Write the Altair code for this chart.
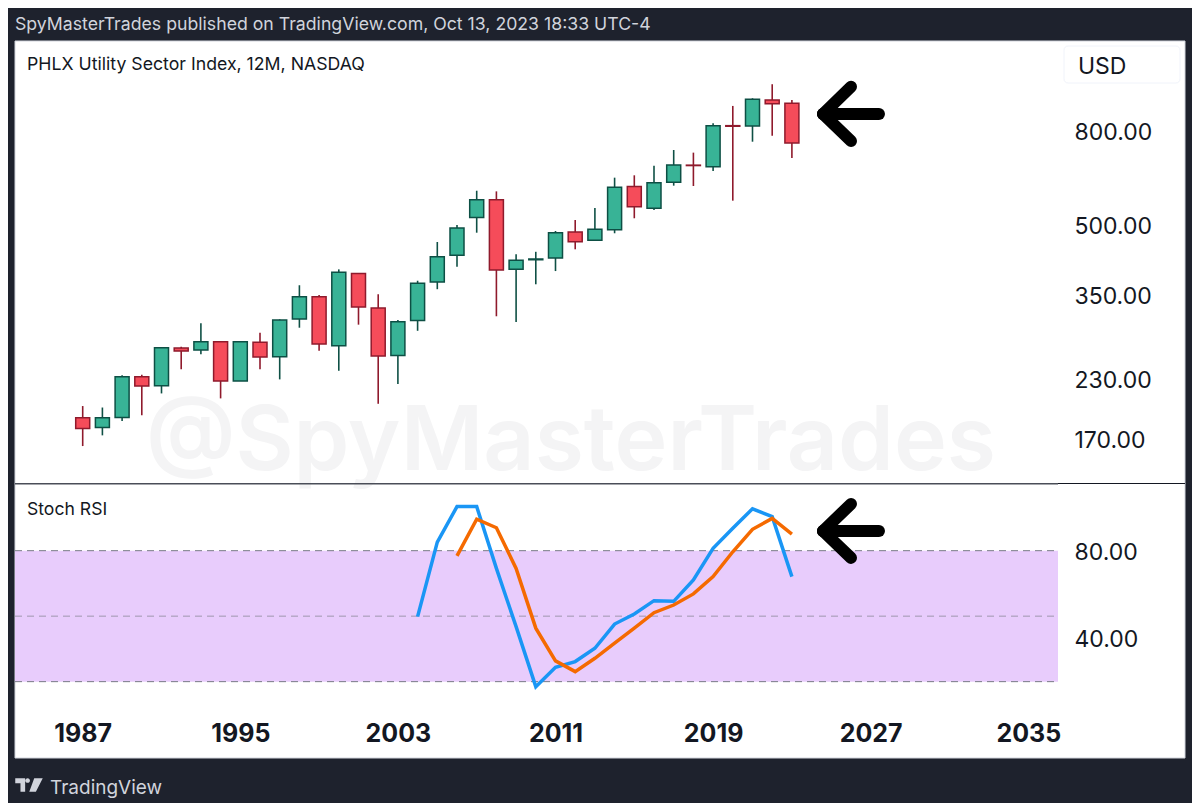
import altair as alt
import pandas as pd

years = list(range(1987, 2024))
opens = [189.2,180.3,189.6,232.8,222.5,269.0,266.3,277.8,227.8,276.9,257.5,311.4,348.6,272.0,391.7,329.2,259.1,309.3,375.4,429.6,
         520.0,568.5,400.1,420.0,423.7,483.0,463.2,488.6,607.8,544.6,621.0,676.8,671.6,826.0,824.8,940.1,924.7]
closes = [179.3,189.2,232.8,222.1,269.5,265.0,277.8,227.8,277.8,257.1,309.8,348.6,274.6,394.3,330.9,258.5,307.2,373.0,426.3,492.9,
          568.5,398.7,418.8,421.6,481.4,459.9,489.6,605.7,548.6,619.4,677.5,675.4,825.9,823.5,943.5,922.7,757.0]
highs = [200.8,199.3,234.4,235.2,270.0,270.9,304.7,278.0,278.0,290.7,310.9,369.3,351.6,400.1,392.0,352.9,309.8,377.8,459.3,500.5,
         594.9,593.0,431.7,437.2,485.5,513.2,545.4,635.4,643.0,675.0,730.5,720.9,836.1,912.4,948.4,1018.0,940.1]
lows = [164.1,173.2,186.3,191.8,214.0,241.6,260.8,208.7,227.8,241.6,229.7,298.1,265.4,239.9,302.7,203.1,224.4,293.5,362.0,405.5,
        481.4,315.8,306.7,371.1,396.7,442.7,463.2,480.0,517.7,539.8,610.3,609.3,657.0,565.8,761.8,785.0,701.6]

k_years = list(range(2004, 2024))
k_values = [49.8,83.9,100.2,100.2,71.9,45.2,17.7,26.6,29.2,35.3,46.4,51.0,57.1,56.8,66.6,81.1,90.3,99.2,95.6,68.1]
d_years = list(range(2006, 2024))
d_values = [77.6,94.4,90.5,71.9,44.5,29.5,24.6,30.7,37.6,44.5,51.6,55.1,60.2,68.1,79.5,89.8,94.8,87.6]

price_ticks = [170, 230, 350, 500, 800]
rsi_ticks = [40, 80]
year_ticks = [1987, 1995, 2003, 2011, 2019, 2027, 2035]
rsi_levels = [80, 50, 20]

DARK = "#1e222d"
FONT = "Inter"
W, H = 1184, 795

x_scale = alt.Scale(domain=[1987, 2035], range=[74.7, 1020.3], nice=False, zero=False, padding=0)
price_scale = alt.Scale(type="log", domain=[136.2, 1266], range=[475, 33], nice=False, padding=0)
rsi_scale = alt.Scale(domain=[0, 110], range=[717.3, 477.2], nice=False, zero=False, padding=0)

candles = pd.DataFrame({"year": years, "open": opens, "close": closes, "high": highs, "low": lows})
k_df = pd.DataFrame({"year": k_years, "v": k_values})
d_df = pd.DataFrame({"year": d_years, "v": d_values})
one = alt.Data(values=[{"a": 1}])

UP = "datum.open <= datum.close"


def label(text, x, y, size, color, align="left", weight=400, opacity=1.0):
    return alt.Chart(one).mark_text(text=text, font=FONT, fontSize=size, color=color, align=align,
                                    baseline="middle", fontWeight=weight, opacity=opacity).encode(
        x=alt.value(x), y=alt.value(y))


def box(x, x2, y, y2, fill, **kw):
    return alt.Chart(one).mark_rect(fill=fill, **kw).encode(
        x=alt.value(x), x2=alt.value(x2), y=alt.value(y), y2=alt.value(y2))


panel = box(7, 1177, 33, 750, "#ffffff", stroke="#d1d4dc", strokeWidth=1)
usd_box = box(1056, 1172, 38, 75, "#ffffff", stroke="#f0f3fa", strokeWidth=1, cornerRadius=4)
sep_left = box(7, 1050, 475, 476.6, "#4a4e58")
sep_right = box(1050, 1177, 475, 476, "#131722")

band = alt.Chart(pd.DataFrame({"a": [80], "b": [20]})).mark_rect(fill="#e8ccfc").encode(
    x=alt.value(7), x2=alt.value(1050),
    y=alt.Y("a:Q", scale=rsi_scale, axis=None), y2="b:Q")

levels = alt.Chart(pd.DataFrame({"v": rsi_levels})).mark_rule(
    stroke="#787b86", strokeWidth=1, strokeDash=[7, 5]).encode(
    x=alt.value(7), x2=alt.value(1050),
    y=alt.Y("v:Q", scale=rsi_scale, axis=None),
    opacity=alt.condition("datum.v == 50", alt.value(0.65), alt.value(1)))

wicks = alt.Chart(candles).mark_rule(strokeWidth=1.6).encode(
    x=alt.X("year:Q", scale=x_scale, axis=alt.Axis(
        values=year_ticks, format="d", title=None, grid=False, domain=False, ticks=False,
        labelFont=FONT, labelFontSize=25, labelFontWeight=700, labelColor="#131722",
        labelPadding=3, offset=-85, zindex=1, orient="bottom", labelOverlap=False, labelFlush=False)),
    y=alt.Y("low:Q", scale=price_scale, axis=alt.Axis(
        values=price_ticks, format=".2f", title=None, grid=False, domain=False, ticks=False,
        labelFont=FONT, labelFontSize=23, labelColor="#131722", labelPadding=6, labelOffset=1,
        offset=-124, zindex=1, orient="right", labelOverlap=False, labelFlush=False)),
    y2="high:Q",
    color=alt.condition(UP, alt.value("#0f5045"), alt.value("#8f1a2c")))

bodies = alt.Chart(candles).mark_bar(width=14, strokeWidth=1.5, orient="vertical").encode(
    x=alt.X("year:Q", scale=x_scale),
    y=alt.Y("open:Q", scale=price_scale, axis=None),
    y2="close:Q",
    fill=alt.condition(UP, alt.value("#38b396"), alt.value("#f54c5a")),
    stroke=alt.condition(UP, alt.value("#0d4f44"), alt.value("#8f1a2c")))

k_line = alt.Chart(k_df).mark_line(color="#1a96f5", strokeWidth=3.5).encode(
    x=alt.X("year:Q", scale=x_scale),
    y=alt.Y("v:Q", scale=rsi_scale, axis=alt.Axis(
        values=rsi_ticks, format=".2f", title=None, grid=False, domain=False, ticks=False,
        labelFont=FONT, labelFontSize=23, labelColor="#131722", labelPadding=6, labelOffset=1.5,
        offset=-124, zindex=1, orient="right", labelOverlap=False, labelFlush=False)))
d_line = alt.Chart(d_df).mark_line(color="#f56a00", strokeWidth=3.5).encode(
    x=alt.X("year:Q", scale=x_scale),
    y=alt.Y("v:Q", scale=rsi_scale, axis=None))


def arrow(scale, tip, top, bottom):
    segs = pd.DataFrame({
        "x": [2024.58, 2024.58, 2024.58],
        "x2": [2027.42, 2026.0, 2026.0],
        "y": [tip, tip, tip],
        "y2": [tip, top, bottom],
    })
    return alt.Chart(segs).mark_rule(color="#000000", strokeWidth=12, strokeCap="round").encode(
        x=alt.X("x:Q", scale=x_scale), x2="x2:Q",
        y=alt.Y("y:Q", scale=scale, axis=None), y2="y2:Q")


logo = alt.Chart(one).mark_point(
    shape="M-1 -0.5 L-0.28 -0.5 L-0.28 0.5 L-0.62 0.5 L-0.62 -0.12 L-1 -0.12 Z "
          "M0.38 -0.5 L1 -0.5 L0.5 0.5 L0.02 0.5 Z "
          "M-0.1 -0.5 A0.17 0.17 0 1 1 -0.1 -0.16 A0.17 0.17 0 1 1 -0.1 -0.5 Z",
    size=756, filled=True, fill="#d1d4dc", stroke=None, opacity=1).encode(
    x=alt.value(21), y=alt.value(777))

chart = alt.layer(
    panel,
    usd_box,
    label("@SpyMasterTrades", 138, 435, 89.5, "#f4f4f5", weight=600),
    band,
    levels,
    sep_left,
    sep_right,
    wicks,
    bodies,
    k_line,
    d_line,
    arrow(price_scale, 876, 1005, 764.5),
    arrow(rsi_scale, 89.0, 101.4, 76.7),
    label("SpyMasterTrades published on TradingView.com, Oct 13, 2023 18:33 UTC-4", 7, 17, 17.7, "#d1d4dc"),
    label("PHLX Utility Sector Index, 12M, NASDAQ", 19, 57, 17.7, "#131722"),
    label("Stoch RSI", 19, 502, 17.6, "#131722"),
    label("USD", 1070, 59, 23, "#131722"),
    label("TradingView", 42, 780, 19, "#d1d4dc"),
    logo,
).resolve_scale(y="independent").resolve_axis(y="independent").properties(
    width=W, height=H, padding=0, background=DARK,
    autosize=alt.AutoSizeParams(type="none"),
).configure_view(stroke=None)

chart.save("out.html", embed_options={"renderer": "svg", "actions": False})
